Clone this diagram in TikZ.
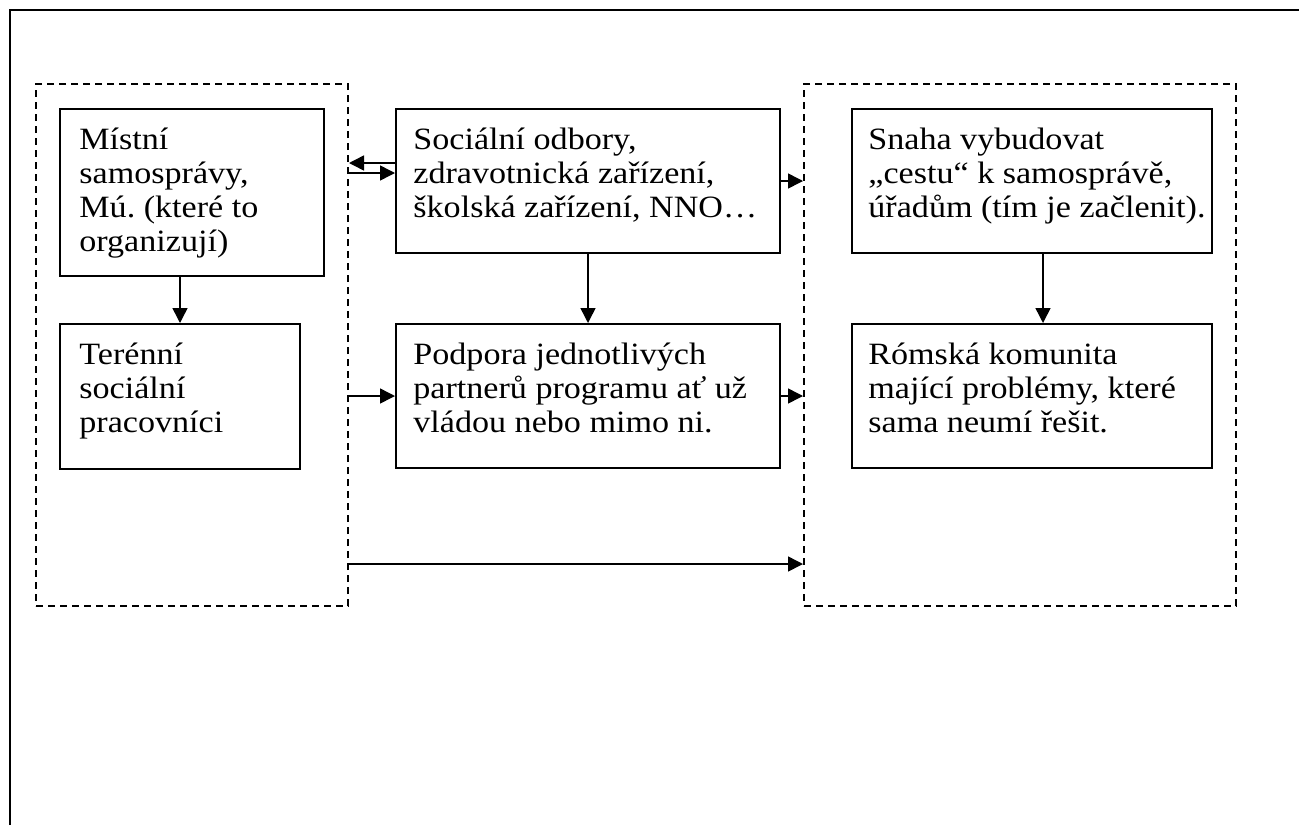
\documentclass[tikz,border=0pt]{standalone}
\usepackage{fontspec}
\setmainfont{Liberation Serif}[FakeStretch=1.1]
\usetikzlibrary{arrows.meta}
\frenchspacing
\begin{document}
\begin{tikzpicture}[x=0.5pt,y=-0.5pt,
  box/.style={draw, line width=1pt, anchor=north west, inner sep=0pt},
  grp/.style={draw, dash pattern=on 3.5pt off 2.5pt, line width=1pt, anchor=north west, inner sep=0pt},
  txt/.style={anchor=north west, inner sep=0pt, align=left, font=\fontsize{15.5pt}{17pt}\selectfont},
  arr/.style={-{Triangle[length=7.5pt,width=7.5pt]}, line width=0.75pt}]
\useasboundingbox (0,0) rectangle (1299,825);
% outer frame (cropped)
\coordinate (fa) at (10,825);
\coordinate (fb) at (10,10);
\coordinate (fc) at (1299,10);
\draw[line width=1pt] (fa) -- (fb) -- (fc);
% groups
\node[grp, minimum width=156pt, minimum height=261pt] (g1) at (35,83) {};
\node[grp, minimum width=216pt, minimum height=261pt] (g2) at (803,83) {};
% boxes
\node[box, minimum width=132pt, minimum height=83.5pt] (b1) at (59,108) {};
\node[box, minimum width=192pt, minimum height=72pt] (b2) at (395,108) {};
\node[box, minimum width=180pt, minimum height=72pt] (b3) at (851,108) {};
\node[box, minimum width=120pt, minimum height=72.5pt] (b4) at (59,323) {};
\node[box, minimum width=192pt, minimum height=72pt] (b5) at (395,323) {};
\node[box, minimum width=180pt, minimum height=72pt] (b6) at (851,323) {};
% texts
\node[txt] (t1) at ([shift={(10pt,-8.6pt)}]b1.north west) {\strut Místní\\samosprávy,\\Mú. (které to\\organizují)};
\node[txt] (t2) at ([shift={(9pt,-8.6pt)}]b2.north west) {\strut Sociální odbory,\\zdravotnická zařízení,\\školská zařízení, NNO…};
\node[txt] (t3) at ([shift={(8.5pt,-8.6pt)}]b3.north west) {\strut Snaha vybudovat\\„cestu“ k samosprávě,\\úřadům (tím je začlenit).};
\node[txt] (t4) at ([shift={(10pt,-8.6pt)}]b4.north west) {\strut Terénní\\sociální\\pracovníci};
\node[txt] (t5) at ([shift={(9pt,-8.6pt)}]b5.north west) {\strut Podpora jednotlivých\\partnerů programu ať už\\vládou nebo mimo ni.};
\node[txt] (t6) at ([shift={(8.5pt,-8.6pt)}]b6.north west) {\strut Rómská komunita\\mající problémy, které\\sama neumí řešit.};
% connectors
\draw[arr] (b2.west |- 0,163) -- (g1.east |- 0,163);
\draw[arr] (g1.east |- 0,173) -- (b2.west |- 0,173);
\draw[arr] (b2.east) -- (g2.west |- b2.east);
\draw[arr] (g1.east |- b5.west) -- (b5.west);
\draw[arr] (b5.east) -- (g2.west |- b5.east);
\draw[arr] (g1.east |- 0,564) -- (g2.west |- 0,564);
\draw[arr] (b4.north |- b1.south) -- (b4.north);
\draw[arr] (b2.south) -- (b5.north);
\draw[arr] (b3.south -| 1043,0) -- (b6.north -| 1043,0);
\end{tikzpicture}
\end{document}
